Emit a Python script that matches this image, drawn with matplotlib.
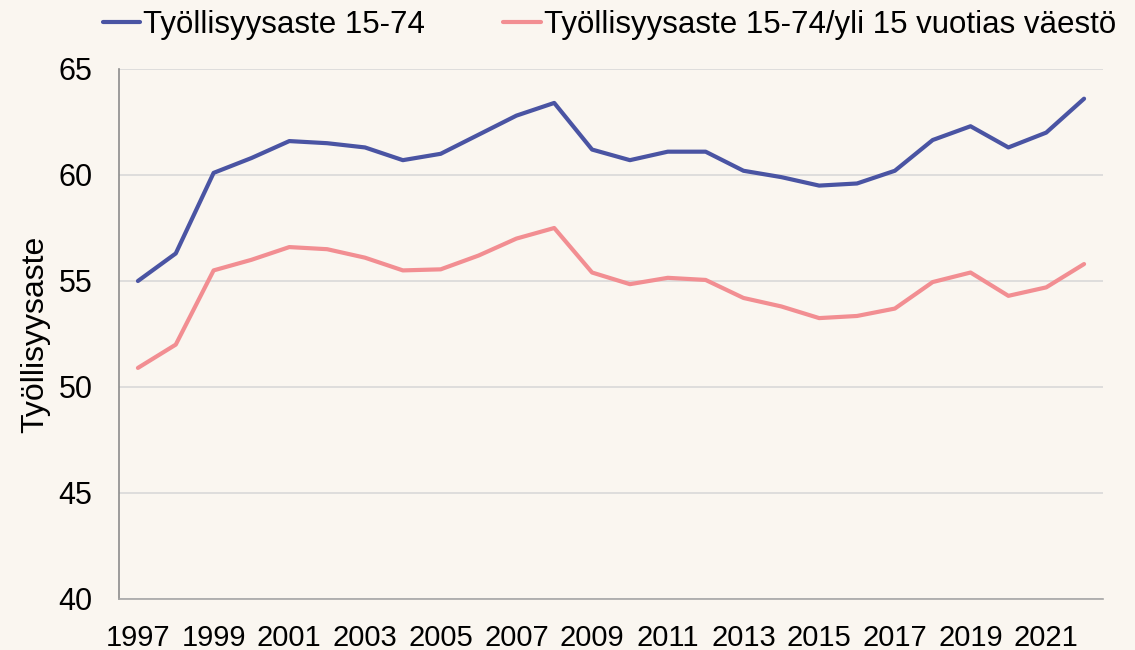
import numpy as np
import matplotlib.pyplot as plt

# vuodet ja sarjat
years = list(range(1997, 2023))
rate_15_74 = [55.0, 56.3, 60.1, 60.8, 61.6, 61.5, 61.3, 60.7, 61.0, 61.9,
              62.8, 63.4, 61.2, 60.7, 61.1, 61.1, 60.2, 59.9, 59.5, 59.6,
              60.2, 61.65, 62.3, 61.3, 62.0, 63.6]
rate_over15 = [50.9, 52.0, 55.5, 56.0, 56.6, 56.5, 56.1, 55.5, 55.55, 56.2,
               57.0, 57.5, 55.4, 54.85, 55.15, 55.05, 54.2, 53.8, 53.25, 53.35,
               53.7, 54.95, 55.4, 54.3, 54.7, 55.8]
labels = ['Työllisyysaste 15-74', 'Työllisyysaste 15-74/yli 15 vuotias väestö']
xticks = list(range(1997, 2022, 2))
yticks = [40, 45, 50, 55, 60, 65]

bg = '#FAF6F0'
plt.rcParams['font.family'] = ['Liberation Sans', 'DejaVu Sans']

fig = plt.figure(figsize=(11.35, 6.5), dpi=100, facecolor=bg)
ax = fig.add_axes([119/1135, 1 - 599/650, (1103 - 119)/1135, (599 - 69)/650])
ax.set_facecolor(bg)

ax.plot(years, rate_15_74, color='#4A54A3', lw=3, label=labels[0],
        solid_joinstyle='round', solid_capstyle='round')
ax.plot(years, rate_over15, color='#F28E92', lw=3, label=labels[1],
        solid_joinstyle='round', solid_capstyle='round')

ax.set_xlim(1996.5, 2022.5)
ax.set_ylim(40, 65)
ax.set_yticks(yticks)
ax.set_xticks(xticks)
ax.grid(axis='y', color='#D9D9D9', lw=1.2)
ax.set_axisbelow(True)
for s in ['top', 'right']:
    ax.spines[s].set_visible(False)
ax.spines['left'].set_color('#8C8C8C')
ax.spines['left'].set_linewidth(1.2)
ax.spines['bottom'].set_color('#A6A6A6')
ax.spines['bottom'].set_linewidth(1.2)
ax.tick_params(axis='both', length=0, labelsize=22, colors='black')
ax.tick_params(axis='y', pad=19)
ax.tick_params(axis='x', labelsize=21, pad=18)
ax.set_ylabel('Työllisyysaste', fontsize=23, labelpad=6)

fig.legend(loc='upper center', bbox_to_anchor=(0.537, 1.028), ncol=2, frameon=False,
           fontsize=22.5, handlelength=1.2, handletextpad=0.1, columnspacing=2.5)

fig.savefig('out.png', dpi=100, facecolor=bg)
